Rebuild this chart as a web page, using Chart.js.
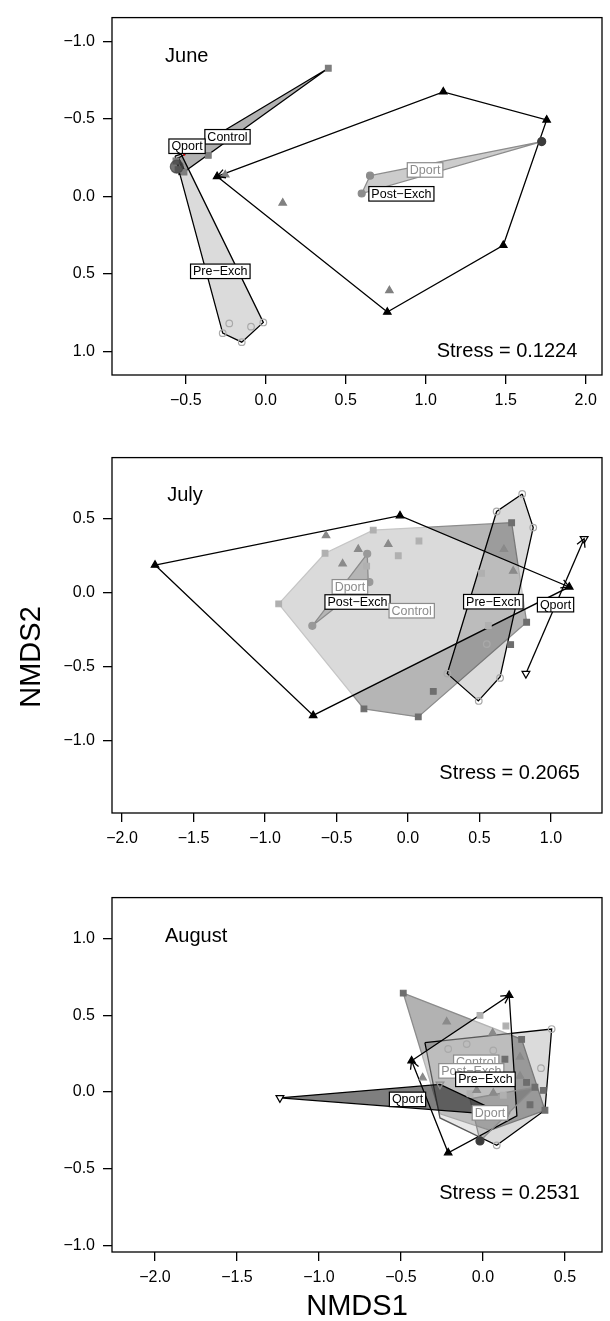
<!DOCTYPE html>
<html>
<head>
<meta charset="utf-8">
<title>NMDS by month</title>
<script src="https://cdn.jsdelivr.net/npm/chart.js@4.4.1/dist/chart.umd.min.js"></script>
<style>
  html, body { margin: 0; padding: 0; background: #fff; overflow: hidden; }
  canvas { position: absolute; left: 0; }
</style>
</head>
<body>
<canvas id="juneChart" width="610" height="440" style="top:0"></canvas>
<canvas id="julyChart" width="610" height="440" style="top:440px"></canvas>
<canvas id="augChart" width="610" height="441" style="top:880px"></canvas>
<script>
const groups = ['Control', 'Dport', 'Post\u2212Exch', 'Pre\u2212Exch', 'Qport'];

// ---- June ----
const juneXTicks = [-0.5, 0, 0.5, 1, 1.5, 2];
const juneYTicks = [-1, -0.5, 0, 0.5, 1];
const juneControlHull = [[0.391, -0.826], [-0.551, -0.244], [-0.511, -0.156]];
const juneControlPts = [[0.391, -0.826], [-0.359, -0.264], [-0.561, -0.228], [-0.548, -0.172], [-0.511, -0.156]];
const juneDportHull = [[0.652, -0.133], [0.600, -0.018], [1.725, -0.353]];
const juneDportPts = [[0.652, -0.133], [0.600, -0.018]];
const juneDportDark = [[1.725, -0.353]];
const juneBlob = [[-0.556, -0.191]];
const junePostHull = [[-0.304, -0.128], [1.110, -0.674], [1.756, -0.493], [1.485, 0.316], [0.760, 0.747]];
const junePostGrey = [[-0.253, -0.139], [0.106, 0.043], [0.773, 0.608]];
const junePreHull = [[-0.567, -0.259], [-0.529, -0.272], [-0.015, 0.814], [-0.150, 0.941], [-0.269, 0.883]];
const junePrePts = [[-0.228, 0.820], [-0.269, 0.883], [-0.150, 0.941], [-0.092, 0.841], [-0.015, 0.814]];
const juneQportHull = [[-0.548, -0.253], [-0.498, -0.147], [-0.542, -0.141]];
const juneRedSeg = [[-0.529, -0.291], [-0.505, -0.262]];
const juneLabelPos = [[-0.239, -0.384], [0.996, -0.170], [0.848, -0.016], [-0.284, 0.484], [-0.492, -0.323]];
const juneLabelGrey = [false, true, false, false, false];

// ---- July ----
const julyXTicks = [-2, -1.5, -1, -0.5, 0, 0.5, 1];
const julyYTicks = [-1, -0.5, 0, 0.5];
const julyControlHull = [[-0.904, -0.076], [-0.580, 0.267], [-0.243, 0.424], [0.725, 0.474], [0.830, -0.200], [0.072, -0.841], [-0.308, -0.787]];
const julyControlLight = [[-0.904, -0.076], [-0.580, 0.267], [-0.243, 0.424], [0.077, 0.350], [-0.068, 0.250], [-0.289, 0.180], [0.515, 0.132], [0.562, -0.222]];
const julyControlDark = [[0.725, 0.474], [0.830, -0.200], [0.718, -0.352], [0.177, -0.668], [0.072, -0.841], [-0.308, -0.787]];
const julyDportHull = [[-0.669, -0.224], [-0.285, 0.263], [-0.278, 0.074]];
const julyDportPts = [[-0.669, -0.224], [-0.285, 0.263], [-0.270, 0.072]];
const julyPostHull = [[-1.769, 0.187], [-0.056, 0.522], [1.128, 0.039], [-0.663, -0.831]];
const julyPostGrey = [[-0.573, 0.387], [-0.457, 0.196], [-0.348, 0.295], [-0.138, 0.328], [0.671, 0.294], [0.736, 0.147]];
const julyPreHull = [[0.799, 0.669], [0.876, 0.441], [0.644, -0.570], [0.492, -0.733], [0.275, -0.548], [0.620, 0.550]];
const julyPrePts = [[0.799, 0.669], [0.620, 0.550], [0.876, 0.441], [0.551, -0.348], [0.275, -0.548], [0.644, -0.577], [0.495, -0.733]];
const julyQport = [[0.825, -0.548], [1.232, 0.365]];
const julyLabelPos = [[0.026, -0.122], [-0.406, 0.040], [-0.353, -0.063], [0.597, -0.061], [1.032, -0.081]];
const julyLabelGrey = [true, true, false, false, false];

// ---- August ----
const augXTicks = [-2, -1.5, -1, -0.5, 0, 0.5];
const augYTicks = [-1, -0.5, 0, 0.5, 1];
const augControlHull = [[-0.486, 0.646], [0.236, 0.344], [0.378, -0.119], [0.043, -0.250], [-0.262, -0.142]];
const augControlLight = [[-0.018, 0.500], [0.140, 0.431], [-0.079, -0.011], [0.124, -0.021]];
const augControlDark = [[-0.486, 0.646], [0.236, 0.344], [0.134, 0.214], [0.266, 0.063], [0.317, 0.031], [0.368, 0.011], [0.287, -0.083], [0.378, -0.119]];
const augDportHull = [[-0.018, -0.319], [0.317, 0.031], [-0.079, -0.044]];
const augDportPts = [[-0.018, -0.319]];
const augPostHull = [[-0.435, 0.204], [0.160, 0.631], [0.207, -0.156], [-0.212, -0.396]];
const augPostPts = [[-0.435, 0.204], [0.160, 0.631], [-0.212, -0.396]];
const augPostGrey = [[-0.221, 0.458], [0.059, 0.386], [-0.368, 0.094], [-0.038, 0.011], [0.063, -0.006], [0.226, 0.104], [0.226, 0.229]];
const augPreHull = [[-0.354, 0.323], [0.419, 0.411], [0.378, -0.119], [0.084, -0.348], [-0.262, -0.169]];
const augPrePts = [[0.419, 0.411], [-0.099, 0.313], [-0.212, 0.281], [0.063, 0.271], [0.354, 0.156], [0.084, -0.348]];
const augQportHull = [[-1.238, -0.038], [-0.262, 0.050], [0.140, -0.152]];
const augQportPts = [[-1.238, -0.038]];
const augQportGrey = [[-0.262, 0.050], [0.140, -0.152]];
const augLabelPos = [[-0.041, 0.194], [0.043, -0.136], [-0.071, 0.138], [0.015, 0.083], [-0.460, -0.048]];
const augLabelGrey = [true, true, true, false, false];

const FONT = '"Liberation Sans", Arial, Helvetica, sans-serif';
const fmt = v => (v < 0 ? '\u2212' : '') + Math.abs(v).toFixed(1);
const pts = arr => arr.map(p => ({ x: p[0], y: p[1] }));

function hull(arr, fill, border) {
    return {
        type: 'line', data: pts(arr.concat([arr[0]])), fill: 'shape',
        backgroundColor: fill, borderColor: border, borderWidth: 1.3,
        pointRadius: 0, tension: 0, borderJoinStyle: 'miter'
    };
}
function seg(arr, color) {
    return { type: 'line', data: pts(arr), fill: false, borderColor: color, borderWidth: 1.3, pointRadius: 0, tension: 0 };
}
function marks(arr, style, r, fill, border, rot) {
    return {
        type: 'scatter', data: pts(arr), pointStyle: style, pointRadius: r,
        pointBackgroundColor: fill, pointBorderColor: border, pointBorderWidth: 1.2,
        pointRotation: rot || 0
    };
}

// draws arrow heads, group labels, month / stress text and the frame
function makeDecor(d) {
    return {
        id: 'decor',
        afterDatasetsDraw(chart) {
            const ctx = chart.ctx, xs = chart.scales.x, ys = chart.scales.y, a = chart.chartArea;
            const px = p => [xs.getPixelForValue(p[0]), ys.getPixelForValue(p[1])];
            ctx.save();
            ctx.lineWidth = 1.3;
            ctx.strokeStyle = '#000';
            d.arrows.forEach(ar => {
                const [x1, y1] = px(ar[0]), [x2, y2] = px(ar[1]);
                const t = Math.atan2(y2 - y1, x2 - x1);
                ctx.beginPath();
                ctx.moveTo(x2 - 9 * Math.cos(t - 0.5), y2 - 9 * Math.sin(t - 0.5));
                ctx.lineTo(x2, y2);
                ctx.lineTo(x2 - 9 * Math.cos(t + 0.5), y2 - 9 * Math.sin(t + 0.5));
                ctx.stroke();
            });
            ctx.font = '12.5px ' + FONT;
            ctx.textAlign = 'center';
            ctx.textBaseline = 'middle';
            d.labelOrder.forEach(i => {
                const [x, y] = px(d.labelPos[i]);
                const col = d.labelGrey[i] ? '#8c8c8c' : '#000';
                const w = ctx.measureText(groups[i]).width + 5, h = 14.5;
                ctx.fillStyle = '#fff';
                ctx.fillRect(x - w / 2, y - h / 2, w, h);
                ctx.strokeStyle = col;
                ctx.lineWidth = 1.2;
                ctx.strokeRect(x - w / 2, y - h / 2, w, h);
                ctx.fillStyle = col;
                ctx.fillText(groups[i], x, y + 0.5);
            });
            ctx.fillStyle = '#000';
            ctx.font = '20px ' + FONT;
            ctx.textBaseline = 'alphabetic';
            ctx.textAlign = 'left';
            let p = px(d.month[1]);
            ctx.fillText(d.month[0], p[0], p[1]);
            ctx.textAlign = 'right';
            p = px(d.stress[1]);
            ctx.fillText(d.stress[0], p[0], p[1]);
            if (d.sideTitle) {
                ctx.font = '29px ' + FONT;
                ctx.textAlign = 'center';
                ctx.textBaseline = 'middle';
                ctx.translate(d.sideTitle[1], d.sideTitle[2]);
                ctx.rotate(-Math.PI / 2);
                ctx.fillText(d.sideTitle[0], 0, 0);
                ctx.setTransform(1, 0, 0, 1, 0, 0);
            }
            ctx.strokeStyle = '#000';
            ctx.lineWidth = 1.3;
            ctx.strokeRect(a.left, a.top, a.right - a.left, a.bottom - a.top);
            ctx.restore();
        }
    };
}

function makePanel(id, p) {
    const n = p.datasets.length;
    p.datasets.forEach((ds, i) => { ds.order = n - i; });
    const tickFont = { size: 16, family: FONT };
    const grid = { drawOnChartArea: false, drawTicks: true, tickLength: 9, color: '#000', tickColor: '#000', lineWidth: 1.3 };
    return new Chart(document.getElementById(id), {
        type: 'scatter',
        data: { datasets: p.datasets },
        options: {
            responsive: false,
            animation: false,
            events: [],
            layout: { padding: { top: p.padTop, right: 8, bottom: p.padBottom, left: 0 } },
            plugins: { legend: { display: false }, tooltip: { enabled: false } },
            scales: {
                x: {
                    type: 'linear', min: p.xRange[0], max: p.xRange[1],
                    afterBuildTicks: ax => { ax.ticks = p.xTicks.map(v => ({ value: v })); },
                    afterFit: ax => { ax.height = p.xAxisH; },
                    ticks: { callback: fmt, font: tickFont, color: '#000', padding: 7, maxRotation: 0, autoSkip: false },
                    grid: grid,
                    border: { display: false },
                    title: p.xTitle ? { display: true, text: p.xTitle, color: '#000', font: { size: 29, family: FONT, lineHeight: 1 }, padding: { top: 0, bottom: 0 } } : { display: false }
                },
                y: {
                    type: 'linear', min: p.yRange[0], max: p.yRange[1], reverse: !!p.yReverse,
                    afterBuildTicks: ax => { ax.ticks = p.yTicks.map(v => ({ value: v })); },
                    afterFit: ax => { ax.width = 112; },
                    ticks: { callback: fmt, font: tickFont, color: '#000', padding: 8, autoSkip: false },
                    grid: grid,
                    border: { display: false }
                }
            }
        },
        plugins: [makeDecor(p.decor)]
    });
}

const T = 'rgba(0,0,0,0)';

// June panel
makePanel('juneChart', {
    padTop: 6, padBottom: 15, xAxisH: 50,
    xRange: [-0.961, 2.102], yRange: [-1.153, 1.153], yReverse: true,
    xTicks: juneXTicks, yTicks: juneYTicks,
    datasets: [
        hull(junePostHull, 'rgba(255,255,255,0.5)', '#000'),
        hull(juneControlHull, 'rgba(0,0,0,0.3)', '#000'),
        hull(junePreHull, 'rgba(0,0,0,0.14)', '#000'),
        hull(juneDportHull, 'rgba(0,0,0,0.2)', '#8c8c8c'),
        hull(juneQportHull, T, '#000'),
        seg(juneRedSeg, '#ff0000'),
        marks(junePrePts, 'circle', 3.3, T, '#a9a9a9'),
        marks(juneControlPts, 'rect', 4, '#7d7d7d', '#7d7d7d'),
        marks(junePostGrey, 'triangle', 4.3, '#808080', '#808080'),
        marks(juneDportPts, 'circle', 3.5, '#8c8c8c', '#8c8c8c'),
        marks(juneDportDark, 'circle', 4, '#3c3c3c', '#3c3c3c'),
        marks(juneBlob, 'circle', 6.5, 'rgba(70,70,70,0.75)', 'rgba(70,70,70,0.75)'),
        marks(junePostHull, 'triangle', 4.3, '#000', '#000')
    ],
    decor: {
        arrows: [[junePostHull[1], junePostHull[0]]],
        labelPos: juneLabelPos, labelGrey: juneLabelGrey, labelOrder: [1, 2, 3, 0, 4],
        month: ['June', [-0.629, -0.864]],
        stress: ['Stress = 0.1224', [1.948, 1.039]]
    }
});

// July panel
makePanel('julyChart', {
    padTop: 4, padBottom: 17, xAxisH: 50,
    xRange: [-2.070, 1.357], yRange: [-1.492, 0.915],
    xTicks: julyXTicks, yTicks: julyYTicks,
    datasets: [
        hull(julyControlHull, 'rgba(0,0,0,0.29)', '#8c8c8c'),
        hull(julyPostHull, 'rgba(255,255,255,0.5)', '#000'),
        hull(julyDportHull, 'rgba(0,0,0,0.17)', '#8c8c8c'),
        hull(julyPreHull, 'rgba(0,0,0,0.14)', '#000'),
        seg(julyQport, '#000'),
        marks(julyControlLight, 'rect', 4, '#b0b0b0', '#b0b0b0'),
        marks(julyControlDark, 'rect', 4, '#6e6e6e', '#6e6e6e'),
        marks(julyPostGrey, 'triangle', 4.3, '#8a8a8a', '#8a8a8a'),
        marks(julyPrePts, 'circle', 3.3, T, '#a9a9a9'),
        marks(julyDportPts, 'circle', 3.5, '#999999', '#999999'),
        marks(julyPostHull, 'triangle', 4.3, '#000', '#000'),
        marks(julyQport, 'triangle', 4.5, '#fff', '#000', 180)
    ],
    decor: {
        arrows: [[julyPostHull[1], julyPostHull[2]], [julyQport[0], julyQport[1]]],
        labelPos: julyLabelPos, labelGrey: julyLabelGrey, labelOrder: [1, 2, 0, 3, 4],
        month: ['July', [-1.684, 0.622]],
        stress: ['Stress = 0.2065', [1.203, -1.264]],
        sideTitle: ['NMDS2', 32, 217]
    }
});

// August panel
makePanel('augChart', {
    padTop: 2, padBottom: 0, xAxisH: 69, xTitle: 'NMDS1',
    xRange: [-2.262, 0.726], yRange: [-1.044, 1.269],
    xTicks: augXTicks, yTicks: augYTicks,
    datasets: [
        hull(augControlHull, 'rgba(0,0,0,0.3)', '#8c8c8c'),
        hull(augPreHull, 'rgba(0,0,0,0.14)', '#000'),
        hull(augPostHull, 'rgba(255,255,255,0.35)', '#000'),
        hull(augDportHull, 'rgba(0,0,0,0.15)', '#8c8c8c'),
        hull(augQportHull, 'rgba(0,0,0,0.5)', '#000'),
        marks(augControlLight, 'rect', 4, '#b0b0b0', '#b0b0b0'),
        marks(augControlDark, 'rect', 4, '#6e6e6e', '#6e6e6e'),
        marks(augPostGrey, 'triangle', 4.3, '#8a8a8a', '#8a8a8a'),
        marks(augPrePts, 'circle', 3.3, T, '#a9a9a9'),
        marks(augDportPts, 'circle', 4, '#3c3c3c', '#3c3c3c'),
        marks(augPostPts, 'triangle', 4.3, '#000', '#000'),
        marks(augQportGrey, 'triangle', 4.5, T, '#8c8c8c', 180),
        marks(augQportPts, 'triangle', 4.5, '#fff', '#000', 180)
    ],
    decor: {
        arrows: [[augPostHull[0], augPostHull[1]], [augPostHull[3], augPostHull[0]]],
        labelPos: augLabelPos, labelGrey: augLabelGrey, labelOrder: [1, 0, 2, 3, 4],
        month: ['August', [-1.939, 0.981]],
        stress: ['Stress = 0.2531', [0.591, -0.700]]
    }
});
</script>
</body>
</html>
